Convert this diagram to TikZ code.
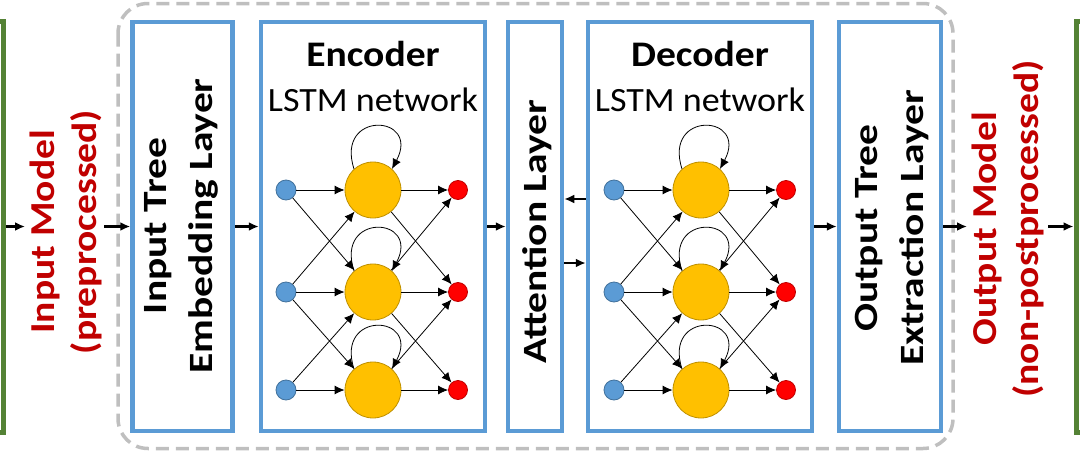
\documentclass[tikz,border=0pt]{standalone}
\usepackage{fontspec}
\setmainfont{Carlito}
\usetikzlibrary{arrows.meta}
\definecolor{boxblue}{HTML}{5B9BD5}
\definecolor{boxgreen}{HTML}{548235}
\definecolor{txtred}{HTML}{C00000}
\definecolor{dashgray}{HTML}{BFBFBF}
\definecolor{hidfill}{HTML}{FFC000}
\definecolor{hiddraw}{HTML}{BF9000}
\definecolor{inpfill}{HTML}{5B9BD5}
\definecolor{inpdraw}{HTML}{41719C}
\definecolor{outfill}{HTML}{FF0000}
\definecolor{outdraw}{HTML}{C00000}
\begin{document}
\begin{tikzpicture}[x=1pt,y=-1pt,
  layer/.style={draw=boxblue,line width=4.5pt,rectangle,inner sep=0pt,minimum height=409pt},
  gbox/.style={draw=boxgreen,line width=5pt,rectangle,inner sep=0pt,minimum height=411pt,minimum width=40pt},
  vtext/.style={rotate=90,xscale=1.22,align=center,font=\fontsize{34}{46}\selectfont\bfseries,inner sep=0pt},
  redtext/.style={rotate=90,xscale=1.13,align=center,text=txtred,font=\fontsize{35}{42}\selectfont\bfseries,inner sep=0pt},
  arr/.style={line width=2.2pt,-{Latex[length=10pt,width=9pt]}},
  conn/.style={line width=0.8pt,-{Latex[length=10pt,width=9pt]}},
  inp/.style={circle,fill=inpfill,draw=inpdraw,line width=0.8pt,minimum size=20pt,inner sep=0pt},
  hid/.style={circle,fill=hidfill,draw=hiddraw,line width=0.8pt,minimum size=56pt,inner sep=0pt},
  outn/.style={circle,fill=outfill,draw=outdraw,line width=0.8pt,minimum size=19pt,inner sep=0pt},
  ttl/.style={xscale=1.1,font=\fontsize{36}{42}\selectfont\bfseries,inner sep=0pt},
  sub/.style={xscale=1.06,font=\fontsize{34}{42}\selectfont,inner sep=0pt}]
\useasboundingbox (0,0) rectangle (1080,453);
% outer green boxes
\node[gbox] (gin) at (-17,226.5) {};
\node[gbox] (gout) at (1096,226.5) {};
% dashed container
\draw[dashgray,line width=3.5pt,dash pattern=on 13pt off 7pt,rounded corners=30pt] (118,3.5) rectangle (953,448.5);
% layer boxes
\node[layer,minimum width=100pt] (emb) at (182.5,226.5) {};
\node[layer,minimum width=224pt] (enc) at (373,226.5) {};
\node[layer,minimum width=54pt] (att) at (535,226.5) {};
\node[layer,minimum width=224pt] (dec) at (700,226.5) {};
\node[layer,minimum width=102pt] (outl) at (890,226.5) {};
% texts
\node[redtext] (inmodel) at (66,232) {Input Model\\(preprocessed)};
\node[vtext] (embt) at (181,226) {Input Tree\\Embedding Layer};
\node[vtext] (attt) at (537,232) {Attention Layer};
\node[vtext] (outt) at (892,228) {Output Tree\\Extraction Layer};
\node[redtext] (outmodel) at (1008,229) {Output Model\\(non-postprocessed)};
\node[ttl] (enct) at (373,54) {Encoder};
\node[sub] (encs) at (373,100) {LSTM network};
\node[ttl] (dect) at (700,54) {Decoder};
\node[sub] (decs) at (700,100) {LSTM network};
% main arrows
\coordinate (c1) at (25,226.5);
\coordinate (c2) at (104,226.5);
\coordinate (c3) at (967,226.5);
\coordinate (c4) at (1048,226.5);
\draw[arr] (gin.east) -- (c1);
\draw[arr] (c2) -- (emb.west);
\draw[arr] (emb.east) -- (enc.west);
\draw[arr] (enc.east) -- (att.west);
\draw[arr] ([yshift=27.5pt]dec.west) -- ([yshift=27.5pt]att.east);
\draw[arr] ([yshift=-36.5pt]att.east) -- ([yshift=-36.5pt]dec.west);
\draw[arr] (dec.east) -- (outl.west);
\draw[arr] (outl.east) -- (c3);
\draw[arr] (c4) -- (gout.west);
% LSTM networks
\foreach \p/\dx in {e/0,d/328}{
\begin{scope}[xshift=\dx pt]
  \node[inp] (\p b1) at (286,190) {};
  \node[inp] (\p b2) at (286,292) {};
  \node[inp] (\p b3) at (286,390) {};
  \node[hid] (\p h1) at (373,190) {};
  \node[hid] (\p h2) at (373,292) {};
  \node[hid] (\p h3) at (373,390) {};
  \node[outn] (\p r1) at (458,190) {};
  \node[outn] (\p r2) at (458,292) {};
  \node[outn] (\p r3) at (458,390) {};
  \draw[conn] (\p b1) -- (\p h1);
  \draw[conn] (\p b1) -- (\p h2);
  \draw[conn] (\p b2) -- (\p h1);
  \draw[conn] (\p b2) -- (\p h2);
  \draw[conn] (\p b2) -- (\p h3);
  \draw[conn] (\p b3) -- (\p h2);
  \draw[conn] (\p b3) -- (\p h3);
  \draw[conn] (\p h1) -- (\p r1);
  \draw[conn] (\p h1) -- (\p r2);
  \draw[conn] (\p h2) -- (\p r1);
  \draw[conn] (\p h2) -- (\p r2);
  \draw[conn] (\p h2) -- (\p r3);
  \draw[conn] (\p h3) -- (\p r2);
  \draw[conn] (\p h3) -- (\p r3);
  \draw[conn] (\p h1.132) .. controls +(-108:62) and +(-62:62) .. (\p h1.48);
  \draw[conn] (\p h2.132) .. controls +(-108:62) and +(-62:62) .. (\p h2.48);
  \draw[conn] (\p h3.132) .. controls +(-108:62) and +(-62:62) .. (\p h3.48);
\end{scope}}
\end{tikzpicture}
\end{document}
